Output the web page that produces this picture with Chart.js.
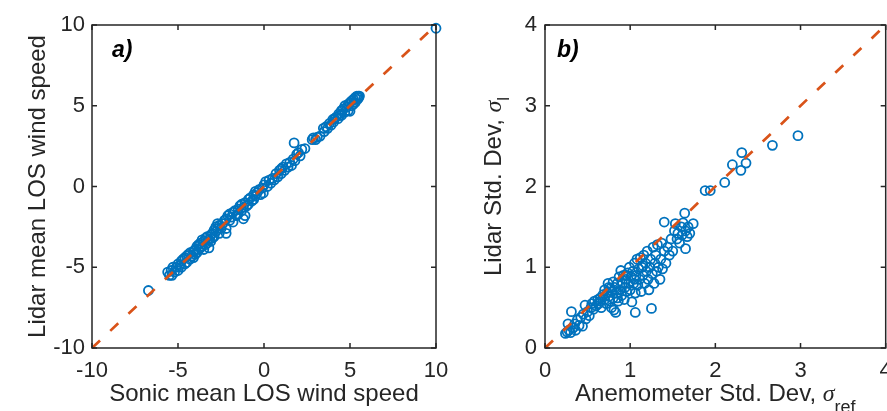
<!DOCTYPE html>
<html><head><meta charset="utf-8">
<script src="https://cdn.jsdelivr.net/npm/chart.js@4/dist/chart.umd.min.js"></script>
<style>
html,body{margin:0;padding:0;background:#fff;overflow:hidden;width:887px;height:411px;}
#wrap{position:relative;width:887px;height:411px;overflow:hidden;background:#fff;}
#c1{position:absolute;left:0;top:0;}
#c2{position:absolute;left:440px;top:0;}
</style></head><body>
<div id="wrap"><canvas id="c1" width="460" height="411"></canvas><canvas id="c2" width="452" height="411"></canvas></div>
<script>
// ---------- Panel a) data: mean LOS wind speed ----------
const sonicMean = [
 -6.72,-5.6,-5.5,-5.4,-5.35,-5.3,-5.2,-5.1,-5.0,-5.0,-4.9,-4.8,-4.8,-4.7,-4.6,-4.6,-4.5,-4.5,-4.4,-4.3,-4.3,-4.2,-4.1,-4.1,-4.0,-4.0,
 -3.9,-3.9,-3.8,-3.8,-3.7,-3.7,-3.6,-3.6,-3.5,-3.5,-3.4,-3.4,-3.3,-3.3,-3.2,-3.2,-3.1,-3.1,-3.0,-3.0,-2.9,-2.9,-2.8,-2.8,-2.7,-2.7,-2.6,-2.6,-2.5,-2.2,-2.2,
 -2.4,-2.3,-2.2,-2.1,-2.0,-2.0,-1.9,-1.8,-1.8,-1.7,-1.6,-1.5,-1.5,-1.4,-1.3,-1.3,-1.2,-1.2,-1.1,-1.1,-1.0,-0.9,-0.9,-0.8,-0.7,-0.6,-0.6,-0.5,-0.5,-0.4,-0.3,-0.2,-0.1,-0.04,0.0,
 0.1,0.2,0.3,0.4,0.5,0.6,0.7,0.8,0.9,1.0,1.0,1.1,1.2,1.3,1.4,1.5,1.6,1.7,1.75,1.8,1.9,2.0,2.1,2.2,2.38,
 2.8,2.87,3.0,3.1,3.26,
 3.45,3.5,3.6,3.7,3.8,3.9,4.0,4.05,4.1,4.2,4.3,4.35,4.4,4.5,4.5,
 4.6,4.7,4.7,4.8,4.9,4.9,5.0,5.0,5.1,5.1,5.2,5.2,5.3,5.3,5.4,5.45,5.49,5.5,5.55,10.0
];
const lidarMean = [
 -6.44,-5.3,-5.5,-5.2,-5.5,-5.0,-5.3,-5.0,-4.8,-5.2,-4.9,-4.6,-5.0,-4.5,-4.8,-4.4,-4.3,-4.7,-4.2,-4.5,-4.1,-4.3,-4.0,-4.4,-3.9,-4.2,
 -3.7,-4.1,-3.6,-3.9,-3.5,-3.8,-3.3,-3.7,-3.4,-3.9,-3.2,-3.6,-3.1,-3.5,-3.3,-3.8,-3.0,-3.4,-2.9,-3.2,-2.7,-3.1,-2.5,-2.8,-2.3,-2.6,-2.9,-2.4,-2.6,-2.9,-2.6,
 -2.3,-2.1,-2.0,-1.8,-2.1,-1.7,-1.9,-1.6,-2.2,-1.5,-1.8,-1.4,-1.7,-1.2,-1.5,-1.1,-2.0,-1.3,-1.0,-1.8,-1.2,-0.8,-1.1,-0.7,-0.9,-0.5,-0.8,-0.3,-0.6,-0.4,-0.2,-0.5,-0.1,-0.4,0.1,
 0.3,0.0,0.4,0.2,0.5,0.4,0.8,0.6,1.0,0.8,1.1,1.2,1.0,1.4,1.2,1.5,1.3,1.7,2.7,1.6,2.0,2.1,1.9,2.3,2.35,
 2.9,3.01,2.9,3.05,3.12,
 3.6,3.4,3.7,3.6,3.9,3.8,4.15,4.0,4.2,4.3,4.2,4.5,4.4,4.7,4.4,
 4.8,4.6,5.0,4.9,5.1,4.7,5.2,4.66,5.0,5.3,5.4,5.1,5.5,5.2,5.6,5.4,5.59,5.5,5.6,9.8
];
const refLineA = [-10, 10];
const ticksA = [-10, -5, 0, 5, 10];

// ---------- Panel b) data: standard deviations ----------
const anemStd = [
 0.24,0.26,0.28,0.30,0.27,0.31,0.33,0.35,0.36,0.38,0.40,0.42,0.44,0.45,0.47,0.48,0.50,0.52,
 0.54,0.55,0.57,0.58,0.60,0.62,0.63,0.65,0.66,0.68,0.70,0.70,0.72,0.73,0.74,0.75,0.76,0.77,0.78,0.79,0.80,0.80,
 0.81,0.82,0.83,0.84,0.85,0.86,0.87,0.88,0.89,0.90,0.91,0.92,0.93,0.94,0.95,0.96,0.97,0.98,0.99,1.00,1.01,1.02,1.03,1.04,1.05,1.06,1.06,1.07,1.08,1.09,1.10,
 1.11,1.12,1.13,1.14,1.15,1.16,1.17,1.18,1.19,1.20,1.21,1.22,1.23,1.24,1.25,1.26,1.27,1.28,1.29,1.30,1.31,1.32,1.33,1.35,1.36,1.37,1.38,1.40,1.40,
 1.42,1.44,1.46,1.48,1.50,1.52,1.53,1.55,1.56,1.58,1.60,1.61,1.62,1.64,1.65,1.65,1.67,1.68,1.70,1.74,
 1.88,1.94,2.11,2.20,2.30,2.31,2.36,2.67,2.97,
 0.85,0.95,1.05,1.15,0.75,0.65
];
const lidarStd = [
 0.18,0.20,0.22,0.19,0.30,0.45,0.25,0.30,0.22,0.35,0.28,0.38,0.27,0.42,0.53,0.36,0.45,0.40,
 0.50,0.55,0.48,0.58,0.52,0.60,0.55,0.62,0.50,0.66,0.60,0.72,0.55,0.68,0.80,0.64,0.58,0.74,0.50,0.70,0.82,0.62,
 0.47,0.75,0.44,0.68,0.80,0.58,0.88,0.72,0.96,0.65,0.80,0.90,0.60,0.75,0.85,0.70,0.93,0.80,1.00,0.72,0.88,0.57,0.95,0.80,1.05,0.44,0.68,0.90,1.10,0.78,0.98,
 0.85,1.12,0.70,1.00,0.90,1.15,0.80,1.05,0.95,1.20,0.85,0.72,1.00,1.10,0.49,0.92,1.25,0.80,1.05,1.15,0.95,1.28,1.00,0.85,1.10,1.30,0.98,1.20,1.56,
 1.05,1.25,1.15,1.35,1.20,1.45,1.54,1.35,1.42,1.30,1.50,1.40,1.55,1.67,1.23,1.45,1.38,1.50,1.42,1.54,
 1.95,1.95,2.05,2.27,2.20,2.42,2.29,2.51,2.63,
 0.62,0.90,0.85,1.02,0.75,0.58
];
const refLineB = [0, 4];
const ticksB = [0, 1, 2, 3, 4];

// ---------- styling ----------
const FONT = '"Liberation Sans", Arial, Helvetica, sans-serif';
const SERIF = '"Liberation Serif", "DejaVu Serif", serif';
const TXT = '#262626';
const BLUE = '#0072BD';
const ORANGE = '#D95319';

function drawRich(ctx, parts, x, y) {
  let total = 0;
  parts.forEach(p => { ctx.font = p.f; p.w = ctx.measureText(p.t).width; total += p.w; });
  let cx = x - total / 2;
  parts.forEach(p => { ctx.font = p.f; ctx.fillText(p.t, cx, y + (p.dy || 0)); cx += p.w; });
}

function framePlugin(o) {
  return {
    id: 'frame',
    afterDraw(chart) {
      const {ctx, chartArea: a, scales: {x, y}} = chart;
      ctx.save();
      ctx.strokeStyle = TXT; ctx.lineWidth = 1.5;
      ctx.strokeRect(a.left, a.top, a.right - a.left, a.bottom - a.top);
      const tl = 5;
      ctx.beginPath();
      x.ticks.forEach(t => {
        const p = x.getPixelForValue(t.value);
        ctx.moveTo(p, a.bottom); ctx.lineTo(p, a.bottom - tl);
        ctx.moveTo(p, a.top); ctx.lineTo(p, a.top + tl);
      });
      y.ticks.forEach(t => {
        const p = y.getPixelForValue(t.value);
        ctx.moveTo(a.left, p); ctx.lineTo(a.left + tl, p);
        ctx.moveTo(a.right, p); ctx.lineTo(a.right - tl, p);
      });
      ctx.stroke();
      // axis titles
      ctx.fillStyle = TXT;
      ctx.textBaseline = 'alphabetic';
      ctx.textAlign = 'left';
      drawRich(ctx, o.xTitle, (a.left + a.right) / 2 + (o.xShift || 0), o.xTitleY);
      ctx.save();
      ctx.translate(o.yTitleX, (a.top + a.bottom) / 2);
      ctx.rotate(-Math.PI / 2);
      drawRich(ctx, o.yTitle, 0, 0);
      ctx.restore();
      // panel label
      ctx.fillStyle = '#000';
      ctx.font = 'italic bold 23px ' + FONT;
      ctx.fillText(o.label, o.labelX, o.labelY);
      ctx.restore();
    }
  };
}

function makeChart(id, xs, ys, ref, ticks, padRight, yWidth, yPad, plug) {
  const pts = xs.map((v, i) => ({x: v, y: ys[i]}));
  const line = [{x: ref[0], y: ref[0]}, {x: ref[1], y: ref[1]}];
  const tickCb = s => { s.ticks = ticks.map(v => ({value: v})); };
  return new Chart(document.getElementById(id), {
    type: 'scatter',
    data: {
      datasets: [
        {type: 'line', data: line, borderColor: ORANGE, borderWidth: 2.7, borderDash: [11, 14],
         pointRadius: 0, fill: false, order: 0, clip: false},
        {data: pts, borderColor: BLUE, backgroundColor: 'rgba(0,0,0,0)', pointRadius: 4.5,
         pointBorderWidth: 1.8, pointHoverRadius: 4.5, order: 1, clip: false}
      ]
    },
    options: {
      responsive: false, animation: false, devicePixelRatio: 1,
      layout: {padding: {top: 25, right: padRight, left: 0, bottom: 0}},
      plugins: {legend: {display: false}, tooltip: {enabled: false}},
      events: [],
      scales: {
        x: {type: 'linear', min: ticks[0], max: ticks[ticks.length - 1],
            afterBuildTicks: tickCb,
            afterFit: s => { s.height = 63; s.paddingLeft = 0; s.paddingRight = 0; },
            grid: {display: false, drawTicks: false}, border: {display: false},
            ticks: {autoSkip: false, maxRotation: 0, padding: 10, color: TXT, font: {family: FONT, size: 22}}},
        y: {type: 'linear', min: ticks[0], max: ticks[ticks.length - 1],
            afterBuildTicks: tickCb,
            afterFit: s => { s.width = yWidth; s.paddingTop = 0; s.paddingBottom = 0; },
            grid: {display: false, drawTicks: false}, border: {display: false},
            ticks: {autoSkip: false, padding: yPad, color: TXT, font: {family: FONT, size: 22}}}
      }
    },
    plugins: [plug]
  });
}

makeChart('c1', sonicMean, lidarMean, refLineA, ticksA, 24, 92, 7, framePlugin({
  xTitle: [{t: 'Sonic mean LOS wind speed', f: '24px ' + FONT}],
  yTitle: [{t: 'Lidar mean LOS wind speed', f: '24px ' + FONT}],
  xTitleY: 401, yTitleX: 45, label: 'a)', labelX: 112, labelY: 57
}));

makeChart('c2', anemStd, lidarStd, refLineB, ticksB, 3, 105, 8, framePlugin({
  xTitle: [{t: 'Anemometer Std. Dev, ', f: '24px ' + FONT},
           {t: 'σ', f: 'italic 24px ' + SERIF},
           {t: 'ref', f: '18px ' + FONT, dy: 12}],
  yTitle: [{t: 'Lidar Std. Dev, ', f: '24px ' + FONT},
           {t: 'σ', f: 'italic 24px ' + SERIF},
           {t: 'l', f: '17px ' + FONT, dy: 8}],
  xTitleY: 401, yTitleX: 61, label: 'b)', labelX: 117, labelY: 57
}));
</script>
</body></html>
